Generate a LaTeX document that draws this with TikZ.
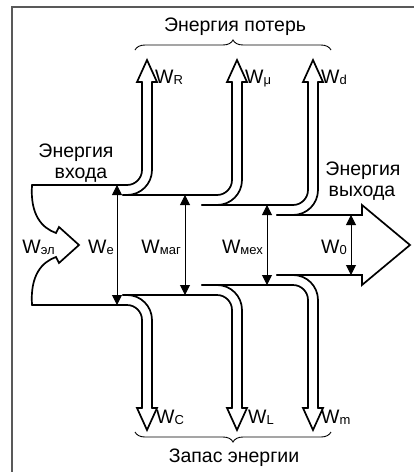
\documentclass[tikz,border=0pt]{standalone}
\usepackage{fontspec}
\setmainfont{Liberation Sans}
\usetikzlibrary{arrows.meta,decorations.pathreplacing}
\newcommand{\Wl}[1]{W{\fontsize{13}{13}\selectfont\raisebox{-1.2pt}{#1}}}
\begin{document}
\begin{tikzpicture}[x=1pt,y=-1pt,
  flow/.style={line width=1.7pt, line cap=round, line join=round},
  headline/.style={line width=1.7pt, line cap=round, line join=miter},
  meas/.style={line width=1pt, {Triangle[length=10pt,width=10pt]}-{Triangle[length=10pt,width=10pt]}},
  lbl/.style={inner sep=0pt, font=\fontsize{19.5}{22}\selectfont},
  bracestyle/.style={line width=0.9pt, decorate, decoration={brace, amplitude=10pt}},
  framestyle/.style={line width=1.3pt, draw=black!65}]
\useasboundingbox (0,0) rectangle (414,472);
\draw[framestyle] (12,472) -- (12,7) -- (414,7);

% input contour and stage 0
\draw[flow,rounded corners=15] (142,82) -- (142,185) -- (32,185);
\draw[flow,line join=miter] (32,185) .. controls (30,215) and (42,228) .. (56,233) -- (59,227) -- (79,245) -- (59,263) -- (56,257) .. controls (42,262) and (30,275) .. (32,305);
\draw[flow,rounded corners=15] (32,305) -- (142,305) -- (142,408);

% W_R / W_C outer and stage 1
\draw[flow,rounded corners=25] (123,195) -- (152,195) -- (152,82);
\draw[flow,rounded corners=15] (123,195) -- (232,195) -- (232,82);
\draw[flow,rounded corners=25] (123,295) -- (152,295) -- (152,408);
\draw[flow,rounded corners=15] (123,295) -- (232,295) -- (232,408);

% W_mu / W_L outer and stage 2
\draw[flow,rounded corners=25] (202,205) -- (242,205) -- (242,82);
\draw[flow,rounded corners=15] (202,205) -- (308,205) -- (308,82);
\draw[flow,rounded corners=25] (202,285) -- (242,285) -- (242,408);
\draw[flow,rounded corners=15] (202,285) -- (308,285) -- (308,408);

% W_d / W_m outer and stage 3 with output arrow
\draw[flow,rounded corners=25] (277,215) -- (318,215) -- (318,82);
\draw[flow,rounded corners=25] (277,275) -- (318,275) -- (318,408);
\draw[headline] (277,215) -- (362,215) -- (362,205) -- (410,245) -- (362,285) -- (362,275) -- (277,275);

% open arrow heads
\foreach \xl in {142,232,308}{
  \draw[headline] (\xl,82) -- (\xl-5,82) -- (\xl+5,60) -- (\xl+15,82) -- (\xl+10,82);
  \draw[headline] (\xl,408) -- (\xl-5,408) -- (\xl+5,430) -- (\xl+15,408) -- (\xl+10,408);
}

% measuring arrows
\coordinate (eT) at (117,185); \coordinate (eB) at (117,305);
\coordinate (mT) at (185,195); \coordinate (mB) at (185,295);
\coordinate (xT) at (267,205); \coordinate (xB) at (267,285);
\coordinate (oT) at (351,215); \coordinate (oB) at (351,275);
\draw[meas] (eT) -- (eB);
\draw[meas] (mT) -- (mB);
\draw[meas] (xT) -- (xB);
\draw[meas] (oT) -- (oB);

% braces
\coordinate (bt1) at (135,50); \coordinate (bt2) at (331,50);
\coordinate (bb1) at (135,432); \coordinate (bb2) at (331,432);
\draw[bracestyle] (bt1) -- (bt2);
\draw[bracestyle] (bb2) -- (bb1);

% labels
\node[lbl,anchor=base] (loss) at (235,31) {Энергия потерь};
\node[lbl,anchor=base] (store) at (234,462) {Запас энергии};
\node[lbl,anchor=base] (in1) at (76,157) {Энергия};
\node[lbl,anchor=base] (in2) at (81,178) {входа};
\node[lbl,anchor=base] (out1) at (363,175) {Энергия};
\node[lbl,anchor=base] (out2) at (362,196) {выхода};

\node[lbl,anchor=base west] (lWR) at (155,83) {\Wl{R}};
\node[lbl,anchor=base west] (lWmu) at (245,83) {\Wl{μ}};
\node[lbl,anchor=base west] (lWd) at (321,83) {\Wl{d}};
\node[lbl,anchor=base west] (lWC) at (156,423) {\Wl{C}};
\node[lbl,anchor=base west] (lWL) at (248,423) {\Wl{L}};
\node[lbl,anchor=base west] (lWm) at (321,423) {\Wl{m}};

\node[lbl,anchor=base east] (lWel) at (55,253) {\Wl{эл}};
\node[lbl,anchor=base east] (lWe) at (114,253) {\Wl{e}};
\node[lbl,anchor=base east] (lWmag) at (181,253) {\Wl{маг}};
\node[lbl,anchor=base east] (lWmex) at (263,253) {\Wl{мех}};
\node[lbl,anchor=base east] (lW0) at (347,253) {\Wl{0}};
\end{tikzpicture}
\end{document}
